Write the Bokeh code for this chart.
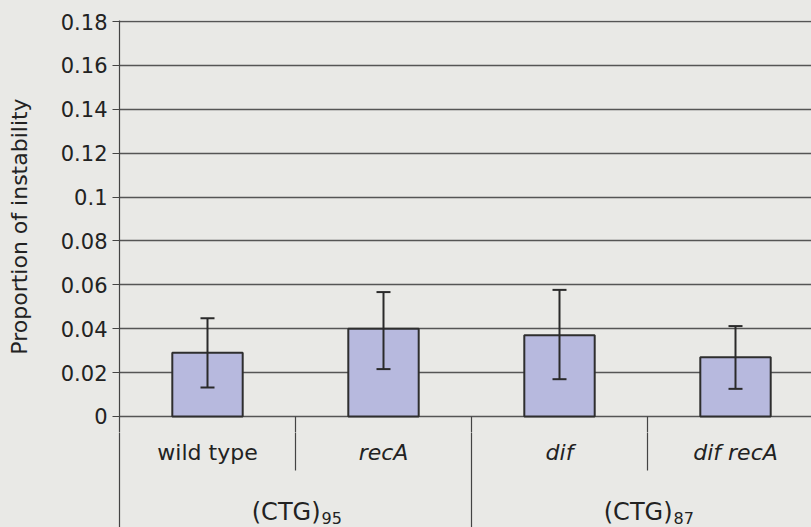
from bokeh.plotting import figure
from bokeh.layouts import column
from bokeh.models import (ColumnDataSource, Range1d, FixedTicker, Whisker, TeeHead)
from bokeh.core.properties import value
from bokeh.embed import file_html
from bokeh.resources import INLINE

# ---- data ----
categories = ["wild type", "recA", "dif", "dif recA"]
cat_styles = ["normal", "italic", "italic", "italic"]
proportion = [0.029, 0.040, 0.037, 0.027]
err_upper = [0.0448, 0.0567, 0.0577, 0.0412]
err_lower = [0.0132, 0.0216, 0.0170, 0.0126]
groups = ["(CTG)", "(CTG)"]
group_subs = ["95", "87"]
group_centers = [1.0, 3.0]
y_ticks = [0, 0.02, 0.04, 0.06, 0.08, 0.1, 0.12, 0.14, 0.16, 0.18]
y_tick_labels = ["0", "0.02", "0.04", "0.06", "0.08", "0.1", "0.12", "0.14", "0.16", "0.18"]
y_title = "Proportion of instability"

FONT = "DejaVu Sans"
BG = "#e9e9e6"
DARK = "#2a2a2a"
AXIS = "#444444"
PX_PER_X = 176.0
PX_PER_Y = 2194.4
SPLIT = -16 / PX_PER_Y       # where the upper figure's frame ends
BOTTOM = -111 / PX_PER_Y     # bottom of the page
SEP_END = -0.0246

x_pos = [i + 0.5 for i in range(len(categories))]
x_range = Range1d(0, 692 / PX_PER_X)

# ---------- main plot ----------
p = figure(width=811, height=432, output_backend="svg", toolbar_location=None,
           x_range=x_range,
           y_range=Range1d(SPLIT, 0.18 + 1 / PX_PER_Y),
           x_axis_location=None,
           min_border_left=119, min_border_right=0, min_border_top=20, min_border_bottom=0)
p.background_fill_color = BG
p.border_fill_color = BG
p.outline_line_color = None

p.yaxis.ticker = FixedTicker(ticks=y_ticks)
p.yaxis.major_label_overrides = {t: l for t, l in zip(y_ticks, y_tick_labels)}
p.yaxis.major_label_text_font = FONT
p.yaxis.major_label_text_font_size = "21px"
p.yaxis.major_label_text_color = "#222222"
p.yaxis.major_tick_out = 7
p.yaxis.major_tick_in = 0
p.yaxis.minor_tick_line_color = None
p.yaxis.major_tick_line_color = AXIS
p.yaxis.axis_line_color = AXIS
p.yaxis.axis_line_width = 1.2
p.yaxis.major_label_standoff = 5
p.yaxis.axis_label = y_title
p.yaxis.axis_label_text_font = FONT
p.yaxis.axis_label_text_font_style = "normal"
p.yaxis.axis_label_text_font_size = "22px"
p.yaxis.axis_label_text_color = "#222222"
p.yaxis.axis_label_standoff = 26

p.ygrid.ticker = FixedTicker(ticks=y_ticks)
p.ygrid.grid_line_color = "#555555"
p.ygrid.grid_line_width = 1.3
p.xgrid.grid_line_color = None

src = ColumnDataSource(dict(x=x_pos, top=proportion, upper=err_upper, lower=err_lower,
                            cat=categories, style=cat_styles))
p.vbar(x="x", top="top", bottom=0, width=0.40, source=src,
       fill_color="#b7b9de", line_color="#2e2e2e", line_width=2)

p.add_layout(Whisker(base="x", upper="upper", lower="lower", source=src, level="overlay",
                     line_color=DARK, line_width=2,
                     upper_head=TeeHead(size=14, line_color=DARK, line_width=2),
                     lower_head=TeeHead(size=14, line_color=DARK, line_width=2)))

# separators (upper part)
p.segment(x0=[1, 2, 3], y0=[0, 0, 0], x1=[1, 2, 3], y1=[SPLIT - 0.001] * 3,
          line_color=AXIS, line_width=1.2)

# ---------- category axis area ----------
q = figure(width=811, height=95, output_backend="svg", toolbar_location=None,
           x_range=x_range,
           y_range=Range1d(BOTTOM, SPLIT),
           x_axis_location=None,
           min_border_left=119, min_border_right=0, min_border_top=0, min_border_bottom=0)
q.background_fill_color = BG
q.border_fill_color = BG
q.outline_line_color = None
q.grid.grid_line_color = None
q.yaxis.ticker = FixedTicker(ticks=[])
q.yaxis.major_label_text_color = None
q.yaxis.major_tick_line_color = None
q.yaxis.minor_tick_line_color = None
q.yaxis.axis_line_color = AXIS
q.yaxis.axis_line_width = 1.2

q.segment(x0=[1, 3], y0=[SPLIT + 0.001] * 2, x1=[1, 3], y1=[SEP_END, SEP_END],
          line_color=AXIS, line_width=1.2)
q.segment(x0=[2], y0=[SPLIT + 0.001], x1=[2], y1=[BOTTOM],
          line_color=AXIS, line_width=1.2)

csrc = ColumnDataSource(dict(x=x_pos, cat=categories, style=cat_styles))
q.text(x="x", y=-0.0162, text="cat", source=csrc, text_font=value(FONT),
       text_font_style="style", text_font_size="22px", text_align="center",
       text_baseline="middle", text_color="#222222")

gsrc = ColumnDataSource(dict(x=group_centers, g=groups, s=group_subs))
q.text(x="x", y=-0.0433, text="g", source=gsrc, text_font=value(FONT),
       text_font_size="24px", text_align="right", text_baseline="alphabetic",
       x_offset=25, text_color="#222222")
q.text(x="x", y=-0.0462, text="s", source=gsrc, text_font=value(FONT),
       text_font_size="16px", text_align="left", text_baseline="alphabetic",
       x_offset=26, text_color="#222222")

layout = column(p, q, spacing=0, styles={"background-color": BG})
open("out.html", "w").write(file_html(layout, INLINE))
